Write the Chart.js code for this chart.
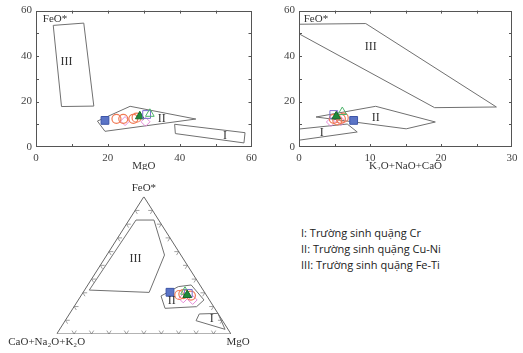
<!DOCTYPE html>
<html>
<head>
<meta charset="utf-8">
<script src="https://cdn.jsdelivr.net/npm/chart.js@4.4.1/dist/chart.umd.min.js"></script>
<style>
  body { margin: 0; background: #fff; width: 523px; height: 353px; overflow: hidden; position: relative; }
  canvas { position: absolute; }
  #mgoChart { left: 0; top: 0; }
  #alkChart { left: 262px; top: 0; }
  #ternChart { left: 0; top: 170px; }
  #legend { position: absolute; left: 301px; top: 225px; font: 11px 'Open Sans', sans-serif; color: #222; line-height: 16px; white-space: nowrap; }
</style>
</head>
<body>
<canvas id="mgoChart" width="262" height="170"></canvas>
<canvas id="alkChart" width="261" height="170"></canvas>
<canvas id="ternChart" width="262" height="183"></canvas>
<div id="legend">
  <div>I: Trường sinh quặng Cr</div>
  <div>II: Trường sinh quặng Cu-Ni</div>
  <div>III: Trường sinh quặng Fe-Ti</div>
</div>
<script>
// ---- MgO vs FeO* ----
const mgoZoneI = [[38.6, 10], [58.2, 6.3], [57.9, 1.8], [38.8, 5.9]];
const mgoZoneII = [[17.1, 11.4], [26.2, 17.9], [44.5, 12.3], [19.2, 6.9]];
const mgoZoneIII = [[4.8, 53.5], [13.3, 54.5], [16.1, 18], [7.1, 17.8]];
const mgoBlueSquare = [[19.2, 11.7]];
const mgoCircles = [[22.4, 12.4], [24.3, 12.4], [27.1, 12.4], [28, 12.9]];
const mgoDiamonds = [[24.8, 11.4], [30.5, 11.1]];
const mgoGreenTri = [[28.9, 13.5]];
const mgoOpenSquare = [[30.8, 14.3]];
const mgoOpenTri = [[31.7, 14.6]];
const mgoZoneLabels = [['III', 8.5, 37.6], ['II', 35, 12.4], ['I', 52.6, 4.7]];

// ---- K2O+NaO+CaO vs FeO* ----
const alkZoneI = [[0, 7.9], [6.8, 10.1], [8.2, 6.6], [0, 3]];
const alkZoneII = [[2.4, 13.2], [10.8, 17.9], [19.2, 11], [15.1, 8]];
const alkZoneIII = [[0, 54], [9.4, 54.3], [27.8, 17.6], [19.1, 17.3], [0, 49.8]];
const alkBlueSquare = [[7.7, 11.7]];
const alkCircles = [[4.9, 12.4], [5.9, 12.4], [6.3, 12.9], [5.4, 11.7]];
const alkDiamonds = [[4.5, 11], [5.9, 11.4]];
const alkGreenTri = [[5.25, 13.5]];
const alkOpenSquare = [[4.9, 14.3]];
const alkOpenTri = [[6.1, 15.4]];
const alkZoneLabels = [['III', 10.1, 44.2], ['II', 10.8, 12.9], ['I', 3.2, 6.1]];

// ---- ternary FeO* / CaO+Na2O+K2O / MgO, as [FeO, alk, MgO] ----
const ternZoneI = [[14.6, 10.9, 74.5], [15, 0, 85], [3.4, 1.7, 94.9], [9.7, 15.2, 75.1]];
const ternZoneII = [[27.7, 26.3, 46], [34.5, 13, 52.5], [35.7, 5, 59.3], [24.8, 3.1, 72.1], [19.9, 9.8, 70.3], [18.7, 28.5, 52.8]];
const ternZoneIII = [[83, 13, 4], [83, 2.7, 14.3], [57.5, 9.4, 33.1], [30.3, 31.8, 37.9], [32, 65.3, 2.7]];
const ternBlueSquare = [[30.4, 19.8, 49.8]];
const ternCircles = [[28.4, 15.5, 56.1], [29.1, 12.8, 58.1], [28, 9, 63]];
const ternDiamonds = [[24.8, 9.6, 65.6], [26, 14.4, 59.6]];
const ternGreenTri = [[28.4, 10.9, 60.7]];
const ternOpenSquare = [[29.6, 9.7, 60.7]];
const ternOpenTri = [[30.8, 11, 58.2]];
const ternZoneLabels = [['III', 55.1, 27.2, 17.7], ['II', 24.3, 21.8, 53.9], ['I', 11.4, 5.4, 83.2]];
const ternTickSteps = [10, 20, 30, 40, 50, 60, 70, 80, 90];

const SERIF = "'Liberation Serif', 'DejaVu Serif', serif";
const LINE = '#707070';

const pts = arr => arr.map(([x, y]) => ({ x, y }));
const closed = arr => pts([...arr, arr[0]]);
const ter = ([f, a, m]) => ({ x: (m + f / 2) / 100, y: f / 100 });

function zone(data) {
  return { data, showLine: true, borderColor: LINE, borderWidth: 1, pointRadius: 0, fill: false, order: 2 };
}

const markerStyles = {
  openTri: { pointStyle: 'triangle', pointRadius: 5, borderColor: '#4cb36a', backgroundColor: 'rgba(0,0,0,0)', borderWidth: 1 },
  openSquare: { pointStyle: 'rect', pointRadius: 5.5, borderColor: '#7d6fcf', backgroundColor: 'rgba(0,0,0,0)', borderWidth: 1 },
  greenTri: { pointStyle: 'triangle', pointRadius: 5, borderColor: '#17692c', backgroundColor: '#1f8a3b', borderWidth: 1 },
  circles: { pointStyle: 'circle', pointRadius: 4.5, borderColor: '#f07a55', backgroundColor: 'rgba(0,0,0,0)', borderWidth: 1.2 },
  diamonds: { pointStyle: 'rectRot', pointRadius: 4.5, borderColor: '#e58ad8', backgroundColor: 'rgba(0,0,0,0)', borderWidth: 1 },
  blueSquare: { pointStyle: 'rect', pointRadius: 5.5, borderColor: '#3d55a8', backgroundColor: '#5b74c6', borderWidth: 1 },
};

function markers(sets) {
  return Object.entries(sets).map(([key, data]) => ({ data, ...markerStyles[key], order: 1 }));
}

// box + inward minor ticks on all four sides
const frameTicks = {
  id: 'frameTicks',
  afterDraw(chart, args, opts) {
    if (!opts.xStep) return;
    const { ctx, chartArea: a, scales: { x, y } } = chart;
    ctx.save();
    ctx.strokeStyle = '#555';
    ctx.lineWidth = 1;
    ctx.strokeRect(Math.round(a.left) + 0.5, Math.round(a.top) + 0.5, Math.round(a.width) - 1, Math.round(a.height) - 1);
    ctx.beginPath();
    for (let v = x.min + opts.xStep; v < x.max; v += opts.xStep) {
      const px = Math.round(x.getPixelForValue(v)) + 0.5;
      ctx.moveTo(px, a.bottom); ctx.lineTo(px, a.bottom - 3);
      ctx.moveTo(px, a.top); ctx.lineTo(px, a.top + 3);
    }
    for (let v = y.min + opts.yStep; v < y.max; v += opts.yStep) {
      const py = Math.round(y.getPixelForValue(v)) + 0.5;
      ctx.moveTo(a.left, py); ctx.lineTo(a.left + 3, py);
      ctx.moveTo(a.right, py); ctx.lineTo(a.right - 3, py);
    }
    ctx.stroke();
    ctx.restore();
  }
};

// text placed at data coordinates
const dataText = {
  id: 'dataText',
  afterDatasetsDraw(chart, args, opts) {
    if (!opts.items) return;
    const { ctx, scales: { x, y } } = chart;
    ctx.save();
    ctx.fillStyle = '#333';
    ctx.textBaseline = 'middle';
    opts.items.forEach(it => {
      ctx.font = it.font;
      ctx.textAlign = it.align || 'center';
      ctx.fillText(it.text, x.getPixelForValue(it.x), y.getPixelForValue(it.y));
    });
    ctx.restore();
  }
};

Chart.register(frameTicks, dataText);
Chart.defaults.animation = false;
Chart.defaults.responsive = false;
Chart.defaults.plugins.legend.display = false;
Chart.defaults.plugins.tooltip.enabled = false;

function xyChart(id, cfg) {
  const tickFont = { family: SERIF, size: 11 };
  return new Chart(document.getElementById(id), {
    type: 'scatter',
    data: { datasets: cfg.datasets },
    options: {
      layout: { padding: { top: 10, right: cfg.right, left: 0, bottom: 0 } },
      scales: {
        x: {
          type: 'linear', min: 0, max: cfg.xMax,
          ticks: { stepSize: cfg.xMajor, color: '#444', font: tickFont, padding: 5 },
          grid: { display: false, drawTicks: false },
          border: { display: false },
          title: { display: true, text: cfg.title, color: '#333', font: { family: SERIF, size: 11 }, padding: { top: 0, bottom: -3 } },
          afterFit: s => { s.height = 23; },
        },
        y: {
          min: 0, max: 60,
          ticks: { stepSize: 20, color: '#444', font: tickFont, padding: 4 },
          grid: { display: false, drawTicks: false },
          border: { display: false },
          afterFit: s => { s.width = cfg.left; },
        },
      },
      plugins: {
        frameTicks: { xStep: cfg.xMinor, yStep: 10 },
        dataText: {
          items: [
            { text: 'FeO*', x: cfg.feoX, y: 56.4, align: 'left', font: `11px ${SERIF}` },
            ...cfg.labels.map(([text, x, y]) => ({ text, x, y, font: `12px ${SERIF}` })),
          ],
        },
      },
    },
  });
}

xyChart('mgoChart', {
  xMax: 60, xMajor: 20, xMinor: 10, left: 36, right: 10, title: 'MgO', feoX: 1.9,
  labels: mgoZoneLabels,
  datasets: [
    ...markers({
      openTri: pts(mgoOpenTri), openSquare: pts(mgoOpenSquare), greenTri: pts(mgoGreenTri),
      circles: pts(mgoCircles), diamonds: pts(mgoDiamonds), blueSquare: pts(mgoBlueSquare),
    }),
    zone(closed(mgoZoneI)), zone(closed(mgoZoneII)), zone(closed(mgoZoneIII)),
  ],
});

xyChart('alkChart', {
  xMax: 30, xMajor: 10, xMinor: 5, left: 37, right: 11, title: 'K\u2082O+NaO+CaO', feoX: 0.66,
  labels: alkZoneLabels,
  datasets: [
    ...markers({
      greenTri: pts(alkGreenTri), openTri: pts(alkOpenTri), openSquare: pts(alkOpenSquare),
      circles: pts(alkCircles), diamonds: pts(alkDiamonds), blueSquare: pts(alkBlueSquare),
    }),
    zone(closed(alkZoneI)), zone(closed(alkZoneII)), zone(closed(alkZoneIII)),
  ],
});

// ternary: small V ticks along each edge
function ternTicks(d) {
  const gap = { x: NaN, y: NaN };
  const out = [];
  ternTickSteps.forEach(t => {
    out.push(ter([d, 100 - t - d, t]), ter([0, 100 - t, t]), ter([d, 100 - t, t - d]), gap);
    out.push(ter([t, 100 - t - d, d]), ter([t, 100 - t, 0]), ter([t - d, 100 - t, d]), gap);
    out.push(ter([t, d, 100 - t - d]), ter([t, 0, 100 - t]), ter([t - d, d, 100 - t]), gap);
  });
  return out;
}

const ternCornerText = {
  id: 'ternCornerText',
  afterDraw(chart) {
    const { ctx, chartArea: a } = chart;
    ctx.save();
    ctx.fillStyle = '#333';
    ctx.font = `11px ${SERIF}`;
    ctx.textAlign = 'center';
    ctx.textBaseline = 'middle';
    ctx.fillText('FeO*', (a.left + a.right) / 2, a.top - 9);
    ctx.fillText('CaO+Na\u2082O+K\u2082O', a.left - 10, a.bottom + 8);
    ctx.fillText('MgO', a.right + 7, a.bottom + 8);
    ctx.restore();
  }
};

new Chart(document.getElementById('ternChart'), {
  type: 'scatter',
  data: {
    datasets: [
      ...markers({
        greenTri: ternGreenTri.map(ter), openTri: ternOpenTri.map(ter), openSquare: ternOpenSquare.map(ter),
        circles: ternCircles.map(ter), diamonds: ternDiamonds.map(ter), blueSquare: ternBlueSquare.map(ter),
      }),
      zone([...ternZoneI, ternZoneI[0]].map(ter)),
      zone([...ternZoneII, ternZoneII[0]].map(ter)),
      zone([...ternZoneIII, ternZoneIII[0]].map(ter)),
      { data: [[100, 0, 0], [0, 100, 0], [0, 0, 100], [100, 0, 0]].map(ter), showLine: true, borderColor: '#666', borderWidth: 1, pointRadius: 0, order: 3 },
      { data: ternTicks(2.5), showLine: true, spanGaps: false, borderColor: '#888', borderWidth: 0.8, pointRadius: 0, order: 3 },
    ],
  },
  options: {
    layout: { padding: { left: 56.7, right: 31, top: 26.7, bottom: 19 } },
    scales: {
      x: { type: 'linear', display: false, min: 0, max: 1 },
      y: { display: false, min: 0, max: 1 },
    },
    plugins: {
      frameTicks: {},
      dataText: {
        items: ternZoneLabels.map(([text, f, a, m]) => ({ text, ...ter([f, a, m]), font: `12px ${SERIF}` })),
      },
    },
  },
  plugins: [ternCornerText],
});
</script>
</body>
</html>
